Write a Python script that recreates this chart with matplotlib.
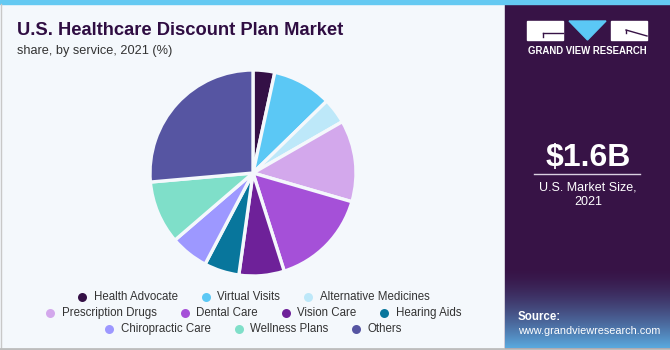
import matplotlib
matplotlib.use("Agg")
import matplotlib.pyplot as plt
import numpy as np
from matplotlib.patches import Rectangle, Polygon

plt.rcParams['font.family'] = ['Liberation Sans', 'DejaVu Sans']

# data
services = ['Health Advocate', 'Virtual Visits', 'Alternative Medicines',
            'Prescription Drugs', 'Dental Care', 'Vision Care', 'Hearing Aids',
            'Chiropractic Care', 'Wellness Plans', 'Others']
shares = [3.4, 9.3, 4.0, 12.8, 15.6, 7.1, 5.5, 6.0, 9.9, 26.4]
colors = ['#341046', '#5bc8f5', '#bde8f9', '#d3a8ec', '#a550d8',
          '#6e2199', '#08769c', '#9d98ff', '#7fdfc9', '#5655a2']
legend_rows = [[0, 1, 2], [3, 4, 5, 6], [7, 8, 9]]

W, H = 670, 350
bg = '#f4f8fc'
purple = '#371346'

fig = plt.figure(figsize=(W / 100, H / 100), dpi=100)
fig.patch.set_facecolor(bg)

# overlay axes in pixel coordinates (y down)
ax = fig.add_axes([0, 0, 1, 1])
ax.set_xlim(0, W)
ax.set_ylim(H, 0)
ax.axis('off')

# right panel
ax.add_patch(Rectangle((505, 0), W - 505, H, color=purple, zorder=1))
grad = np.linspace(0, 1, 100).reshape(-1, 1)
c0 = np.array(matplotlib.colors.to_rgb(purple))
c1 = np.array(matplotlib.colors.to_rgb('#5aa9de'))
img = c0 + (c1 - c0) * grad[..., None] ** 1.5
ax.imshow(img, extent=(505, W, 348, 268), aspect='auto', zorder=2)
ax.set_xlim(0, W)
ax.set_ylim(H, 0)

# top stripe and frame
ax.add_patch(Rectangle((0, 0), W, 4, color='#64c9f2', zorder=3))
ax.plot([0.5, 0.5], [4, H], color='#c8c8c8', lw=1, zorder=3)
ax.plot([0, W], [348.5, 348.5], color='#bdbdbd', lw=2, zorder=3)

# title
ax.text(17, 35, 'U.S. Healthcare Discount Plan Market', fontsize=13.2,
        fontweight='bold', color='#2f0d42', va='baseline', ha='left', zorder=4)
ax.text(17, 54, 'share, by service, 2021 (%)', fontsize=9.2,
        color='#333333', va='baseline', ha='left', zorder=4)

# logo
ax.add_patch(Rectangle((527, 21), 36, 19, color='white', zorder=4))
ax.plot([543, 563], [32.5, 32.5], color=purple, lw=1, zorder=5)
ax.plot([543, 543], [32.5, 37], color=purple, lw=1, zorder=5)
ax.add_patch(Polygon([(569, 21), (606, 21), (587.5, 40)], color='#5bc8f5', zorder=4))
ax.add_patch(Rectangle((611, 21), 36, 19, color='white', zorder=4))
ax.plot([626, 647], [30, 36], color=purple, lw=1, zorder=5)
ax.plot([626, 626], [30, 33], color=purple, lw=1, zorder=5)
ax.text(587, 51, 'GRAND VIEW RESEARCH', fontsize=6.9, fontweight='bold',
        color='white', ha='center', va='center', zorder=4)

# market size
ax.text(588, 166, '$1.6B', fontsize=23, fontweight='bold', color='white',
        ha='center', va='baseline', zorder=4)
ax.plot([534, 640], [173.5, 173.5], color='#d9d0e0', lw=1, zorder=4)
ax.text(588, 190, 'U.S. Market Size,', fontsize=9, color='white',
        ha='center', va='baseline', zorder=4)
ax.text(588, 205, '2021', fontsize=9, color='white',
        ha='center', va='baseline', zorder=4)

# source
ax.text(518, 320, 'Source:', fontsize=8.3, fontweight='bold', color='white',
        ha='left', va='baseline', zorder=4)
ax.text(518, 334, 'www.grandviewresearch.com', fontsize=7.8, color='white',
        ha='left', va='baseline', zorder=4)

# pie
cx, cy, r = 253, 173, 103
pax = fig.add_axes([(cx - r) / W, (H - cy - r) / H, 2 * r / W, 2 * r / H])
pax.pie(shares, colors=colors, startangle=90, counterclock=False,
        wedgeprops=dict(edgecolor=bg, linewidth=2.4))
pax.set_xlim(-1, 1)
pax.set_ylim(-1, 1)
pax.set_aspect('equal')

# legend, rows centred under the pie
fig.canvas.draw()
renderer = fig.canvas.get_renderer()
row_y = [297, 313, 329]
gap_text = 11.5
gap_item = 28
center_x = 254
for row, y in zip(legend_rows, row_y):
    texts = []
    widths = []
    for i in row:
        t = ax.text(0, y, services[i], fontsize=8.3, color='#333333',
                    ha='left', va='center', zorder=4)
        texts.append(t)
        widths.append(t.get_window_extent(renderer).width)
    total = sum(gap_text + w for w in widths) + gap_item * (len(row) - 1) + 3.5
    x = center_x - total / 2 + 3.5
    for i, t, w in zip(row, texts, widths):
        ax.scatter([x], [y], s=42, color=colors[i], zorder=4, linewidths=0)
        t.set_x(x + gap_text)
        x += gap_text + w + gap_item

fig.savefig('out.png', dpi=100, facecolor=bg)
